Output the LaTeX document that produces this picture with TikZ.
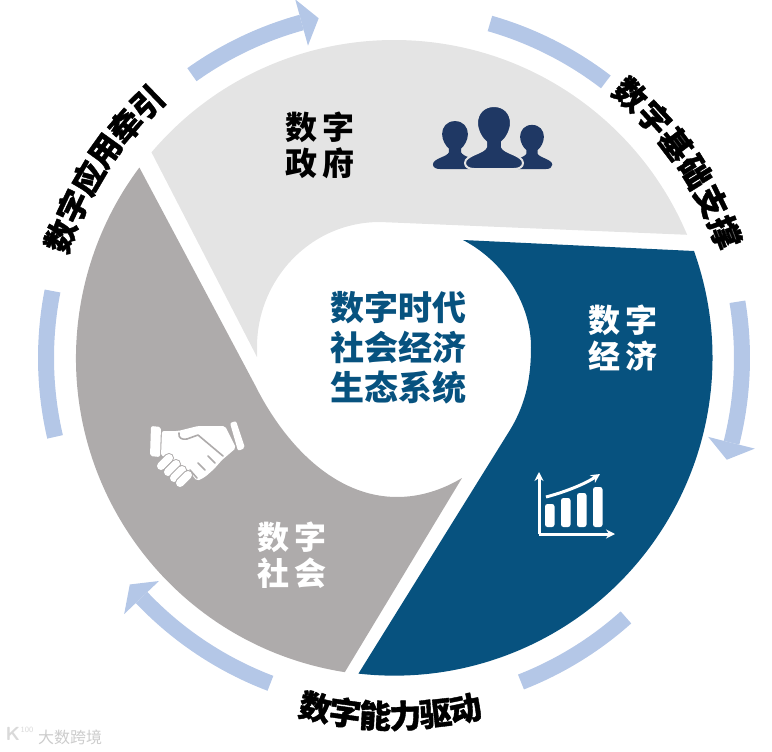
\documentclass[tikz,border=0pt]{standalone}
\usepackage{fontspec}
\usetikzlibrary{arrows.meta}
\newfontfamily\cjk{Noto Sans CJK SC}
\newfontfamily\cjkheavy{Noto Sans CJK SC}[BoldFeatures={FakeBold=1.2}]
\definecolor{panelgray}{HTML}{E4E4E4}
\definecolor{socialgray}{HTML}{AEABAB}
\definecolor{econblue}{HTML}{07527F}
\definecolor{ringblue}{HTML}{B4C7E7}
\definecolor{iconblue}{HTML}{1F3864}
\tikzset{
ringlabel/.style={font=\cjkheavy\bfseries\fontsize{32}{32}\selectfont, text=black, inner sep=0pt},
sectorlabel/.style={font=\cjk\bfseries\fontsize{32}{36}\selectfont, align=center, inner sep=0pt},
person/.pic={\path[fill=iconblue, pic actions] (0,-63) .. controls (11,-63) and (17,-55) .. (17,-46) .. controls (17,-38) and (12,-30) .. (8,-27) -- (8,-22) .. controls (10,-16) and (29,-14) .. (29,-6) .. controls (29,-2) and (25,0) .. (20,0) -- (-20,0) .. controls (-25,0) and (-29,-2) .. (-29,-6) .. controls (-29,-14) and (-10,-16) .. (-8,-22) -- (-8,-27) .. controls (-12,-30) and (-17,-38) .. (-17,-46) .. controls (-17,-55) and (-11,-63) .. (0,-63) -- cycle;}
}
\begin{document}
\begin{tikzpicture}[x=1pt, y=-1pt, line join=round, >={Stealth[length=9pt,width=9pt]}]
\useasboundingbox (0,0) rectangle (772,752);
\path
(394,358) coordinate (C)
(539,534) coordinate (O)
(539,472) coordinate (Y)
(615,534) coordinate (X)
(546,497) coordinate (T1)
(600,474) coordinate (T2);
% sectors
\fill[panelgray] (C) ++(220.3:318) arc[start angle=220.3, end angle=337.2, radius=318] -- (380,222) .. controls (310,222) and (257,280) .. (257,347) -- (257,357) -- cycle;
\fill[econblue] (463,240) -- (694,251) arc[start angle=-19.6, end angle=96.5, radius=318] -- (510,430) .. controls (527,402) and (531,375) .. (531,347) .. controls (531,305) and (505,262) .. (463,240) -- cycle;
\fill[socialgray] (C) ++(98.9:318) arc[start angle=98.9, end angle=216.8, radius=318] -- (255,385) .. controls (285,445) and (335,497) .. (397,497) .. controls (420,497) and (442,490) .. (462,478) -- cycle;
% ring
\foreach \a/\b in {-74/-52.5, 48.2/68.6, 166.9/191.1}
\draw[ringblue, line width=16] (C) ++(\a:348) arc[start angle=\a, end angle=\b, radius=348];
\foreach \a/\b in {-9.3/14.1, 110.8/136.5, 234.5/254.6} {
\draw[ringblue, line width=16] (C) ++(\a:348) arc[start angle=\a, end angle=\b, radius=348];
\fill[ringblue] ([shift={(\b:324)}]C) -- ([shift={(\b+2.9:348)}]C) -- ([shift={(\b:372)}]C) -- cycle;
}
% labels on the ring
\foreach \c [count=\i] in {数,字,基,础,支,撑} {
\pgfmathsetmacro\a{-48.1+(\i-1)*5.46}
\node[ringlabel, rotate={-90-(\a)}] (base\i) at ([shift={(\a:354)}]C) {\c};
}
\foreach \c [count=\i] in {数,字,应,用,牵,引} {
\pgfmathsetmacro\a{200.1+(\i-1)*5.18}
\node[ringlabel, rotate={-90-(\a)}] (app\i) at ([shift={(\a:355)}]C) {\c};
}
\foreach \c [count=\i] in {数,字,能,力,驱,动} {
\pgfmathsetmacro\a{102.7-(\i-1)*4.84}
\node[ringlabel, rotate={90-(\a)}] (power\i) at ([shift={(\a:358)}]C) {\c};
}
% sector and centre labels
\node[sectorlabel, text=black] (gov) at (320,145) {数\hspace{6pt}字\\政\hspace{6pt}府};
\node[sectorlabel, text=white] (econ) at (623,338) {数\hspace{6pt}字\\经\hspace{6pt}济};
\node[sectorlabel, text=white] (soc) at (292,555) {数\hspace{6pt}字\\社\hspace{6pt}会};
\node[font=\cjk\bfseries\fontsize{34}{40}\selectfont, text=econblue, align=center, inner sep=0pt] (core) at (398,348) {数字时代\\社会经济\\生态系统};
% people
\pic[scale=.76] (left) at (455,169) {person};
\pic[scale=.7] (right) at (532,169) {person};
\pic[draw=panelgray, line width=2pt] (mid) at (494,169) {person};
% chart
\draw[white, line width=3, ->] (O) -- (Y);
\draw[white, line width=3, ->] (O) -- (X);
\foreach \x/\t in {545/504, 561/498, 577/493, 593/487}
\fill[white, rounded corners=2.5] (\x,\t) rectangle (\x+9.5,527);
\draw[white, line width=3, ->] (T1) .. controls (565,492) and (585,484) .. (T2);
% handshake
\fill[white, rounded corners=2] (151,426) -- (161,427) -- (160,457) -- (150,456) -- cycle;
\fill[white, rounded corners=2] (230,423) -- (236,421) -- (245,448) -- (238,451) -- cycle;
\fill[white, rounded corners=2] (162,431) -- (178,431) -- (198,426) -- (225,426) -- (236,448) -- (222,460) -- (214,469) -- (205,477) -- (197,481) -- (188,470) -- (170,458) -- (161,456) -- cycle;
\draw[socialgray, line width=1.6, line cap=round] (179,433) .. controls (178,438) and (182,440) .. (187,439) -- (198,435) -- (223,456);
\foreach \x/\y/\u/\v in {208/456/215/463, 198/463/205/470, 190/470/197/478}
\draw[socialgray, line width=1.6, line cap=round] (\x,\y) -- (\u,\v);
\foreach \x/\y in {165/462, 172/468, 178/474, 184/479} {
\draw[socialgray, line width=10, line cap=round] (\x-4,\y+4) -- (\x+4,\y-4);
\draw[white, line width=8, line cap=round] (\x-4,\y+4) -- (\x+4,\y-4);
}
% watermark
\node[font=\sffamily\bfseries\fontsize{19}{19}\selectfont, text=gray!30, inner sep=0pt] (markK) at (13,734) {K};
\node[font=\sffamily\fontsize{8}{8}\selectfont, text=gray!30, inner sep=0pt] (markN) at (27,730) {100};
\node[font=\cjk\fontsize{16}{16}\selectfont, text=gray!40, inner sep=0pt] (mark) at (70,737) {大数跨境};
\end{tikzpicture}
\end{document}
